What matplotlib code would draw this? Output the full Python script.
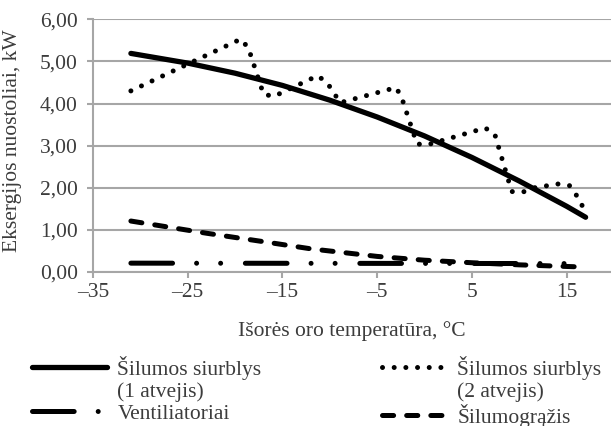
import matplotlib.pyplot as plt
from matplotlib.lines import Line2D

# duomenys (nuskaityta nuo grafiko)
temp_hp1 = [-31, -25, -20, -15, -10, -5, 0, 5, 10, 15, 17]
hp1 = [5.19, 4.96, 4.72, 4.43, 4.08, 3.68, 3.23, 2.72, 2.16, 1.56, 1.30]

temp_hp2 = [-31.0, -19.4, -18.6, -17.0, -15.9, -11.3, -10.3, -8.9, -3.0, -2.4,
            -0.8, 0.3, 6.4, 7.4, 9.2, 10.4, 11.6, 14.1, 15.3, 16.1, 16.7]
hp2 = [4.30, 5.53, 5.32, 4.22, 4.17, 4.66, 4.50, 4.02, 4.38, 4.13,
       3.04, 3.02, 3.42, 3.28, 1.91, 1.90, 2.00, 2.09, 2.05, 1.80, 1.55]

temp_vent = [-31.0, 16.5]
vent = [0.21, 0.20]

temp_hr = [-31, -23, -17, -12, -5, 0, 5, 10, 16.5]
hr = [1.21, 0.92, 0.72, 0.55, 0.37, 0.28, 0.22, 0.17, 0.12]

xticks = [-35, -25, -15, -5, 5, 15]
xtick_labels = ['\u201335', '\u201325', '\u201315', '\u20135', '5', '15']
yticks = [0, 1, 2, 3, 4, 5, 6]
ytick_labels = ['0,00', '1,00', '2,00', '3,00', '4,00', '5,00', '6,00']

labels_left = ['Šilumos siurblys', '(1 atvejis)', 'Ventiliatoriai']
labels_right = ['Šilumos siurblys', '(2 atvejis)', 'Šilumogrąžis']

plt.rcParams['font.family'] = 'Liberation Serif'
plt.rcParams['lines.scale_dashes'] = False
txt = '#3c3c3c'
grey = '#a6a6a6'
fs = 15.5

fig = plt.figure(figsize=(6.11, 4.26), dpi=100)
ax = fig.add_axes([93/611, 154/426, 518/611, 252.7/426])

l1, = ax.plot(temp_hp1, hp1, color='black', lw=3.8, solid_capstyle='round')
l2, = ax.plot(temp_hp2, hp2, color='black', lw=3.6, dashes=(0.01, 8.4),
              dash_capstyle='round')
l3, = ax.plot(temp_vent, vent, color='black', lw=3.6,
              dashes=(30, 17.3, 0.01, 17.3, 0.01, 17.8), dash_capstyle='round')
l4, = ax.plot(temp_hr, hr, color='black', lw=3.6, dashes=(8, 9.4),
              dash_capstyle='round')

ax.set_xlim(-35, 19.68)
ax.set_ylim(0, 6)
ax.set_xticks(xticks)
ax.set_xticklabels(xtick_labels)
ax.set_yticks(yticks)
ax.set_yticklabels(ytick_labels)

ax.yaxis.grid(True, color=grey, lw=1.5)
ax.set_axisbelow(True)
for s in ['top', 'right']:
    ax.spines[s].set_visible(False)
for s in ['left', 'bottom']:
    ax.spines[s].set_color(grey)
    ax.spines[s].set_linewidth(1.5)
ax.tick_params(axis='both', colors=grey, labelcolor=txt, labelsize=fs,
               length=4.5, width=1.5)
ax.tick_params(axis='x', pad=3.5)
ax.tick_params(axis='y', pad=6.5)

ax.set_xlabel('Išorės oro temperatūra, °C', fontsize=fs, color=txt)
ax.set_ylabel('Eksergijos nuostoliai, kW', fontsize=fs, color=txt)
ax.xaxis.set_label_coords(0.5, -0.195)
ax.yaxis.set_label_coords(-0.138, 0.52)

# legenda: dvi kolonos, antroji eilutė be linijos
blank = Line2D([], [], color='none')
common = dict(loc='upper left', frameon=False, fontsize=fs, handletextpad=0.47,
              labelspacing=0.08, labelcolor=txt, borderpad=0, borderaxespad=0)
leg1 = fig.legend([l1, blank, l3], labels_left, handlelength=3.49,
                  bbox_to_anchor=(32/611, 1 - 356/426), **common)
leg2 = fig.legend([l2, blank, l4], labels_right, handlelength=3.02,
                  bbox_to_anchor=(382/611, 1 - 356/426), **common)

fig.savefig('out.png', dpi=100)
